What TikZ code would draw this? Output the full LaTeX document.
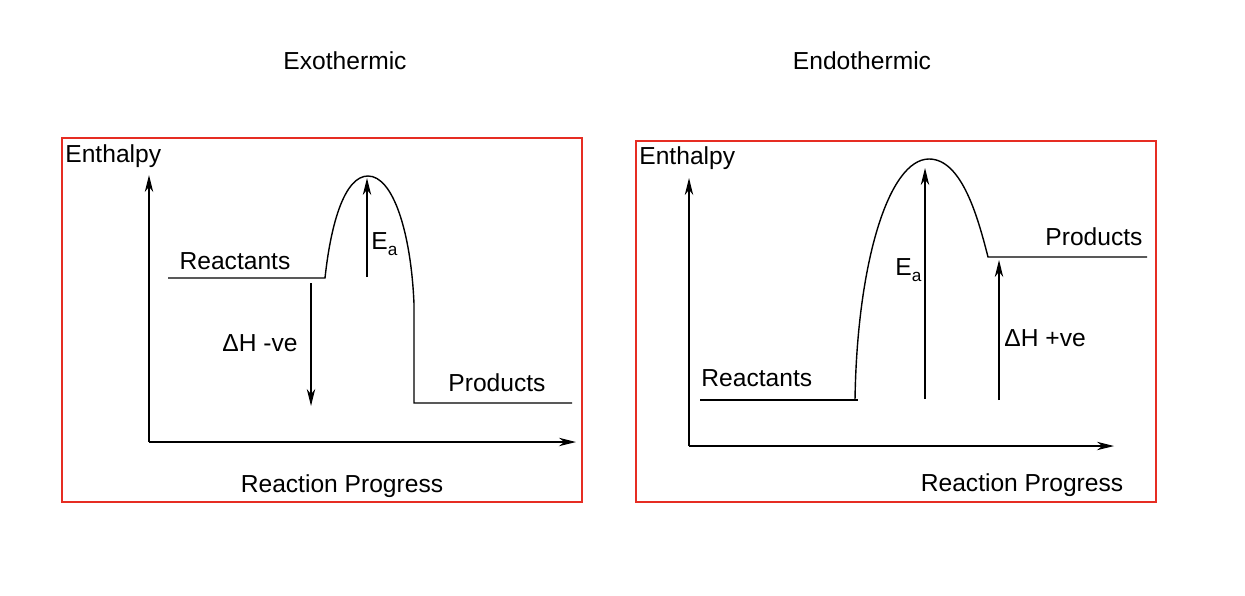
\documentclass[tikz,border=0pt]{standalone}
\usepackage{fontspec}
\setmainfont{Liberation Sans}
\usetikzlibrary{arrows.meta}
\definecolor{framered}{RGB}{230,45,35}
\newcommand{\lowidx}[1]{\raisebox{-3.4pt}{\fontsize{8.6}{9}\selectfont #1}}
\tikzstyle{panel} = [draw=framered, line width=0.9pt]
\tikzstyle{txt} = [inner sep=0pt, font=\fontsize{12.3}{14}\selectfont]
\tikzstyle{level} = [line width=0.7pt]
\tikzstyle{arrow} = [line width=0.7pt, -{Stealth[length=8.5pt,width=4.2pt,inset=2.6pt]}]

\begin{document}
\begin{tikzpicture}[x=0.5pt, y=-0.5pt]
\useasboundingbox (0,0) rectangle (1245,595);

% exothermic
\node (exo) at (345,69) [txt, anchor=base] {Exothermic};
\draw [panel] (62,138) rectangle (582,502);
\node (hl) at (65,162) [txt, anchor=base west] {Enthalpy};
\node (rpl) at (342,492) [txt, anchor=base] {Reaction Progress};
\coordinate (ol) at (149,442);
\coordinate (yl) at (149,175);
\coordinate (xl) at (576,442);
\draw [arrow] (ol) -- (yl);
\draw [arrow] (ol) -- (xl);
\coordinate (r1) at (168,278);
\coordinate (r2) at (325,278);
\coordinate (tl) at (368,176);
\coordinate (dl) at (414,304);
\coordinate (p1) at (414,403);
\coordinate (p2) at (572,403);
\draw [level] (r1) -- (r2) .. controls (331,222) and (345,176) .. (tl)
      .. controls (393,176) and (411,232) .. (dl) -- (p1) -- (p2);
\node (reacl) at (235,269) [txt, anchor=base] {Reactants};
\node (prodl) at (497,391) [txt, anchor=base] {Products};
\coordinate (eal) at (367,277);
\coordinate (eat) at (367,178);
\draw [arrow] (eal) -- (eat);
\node (eall) at (371,249) [txt, anchor=base west] {E\lowidx{a}};
\coordinate (dhl) at (311,283);
\coordinate (dhb) at (311,406);
\draw [arrow] (dhl) -- (dhb);
\node (dhll) at (222,351) [txt, anchor=base west] {ΔH -ve};

% endothermic
\node (endo) at (862,69) [txt, anchor=base] {Endothermic};
\draw [panel] (636,141) rectangle (1156,502);
\node (hr) at (639,164) [txt, anchor=base west] {Enthalpy};
\node (rpr) at (1022,491) [txt, anchor=base] {Reaction Progress};
\coordinate (or) at (689,446);
\coordinate (yr) at (689,178);
\coordinate (xr) at (1114,446);
\draw [arrow] (or) -- (yr);
\draw [arrow] (or) -- (xr);
\coordinate (r3) at (700,400);
\coordinate (r4) at (858,400);
\coordinate (hs) at (855,400);
\coordinate (tr) at (929,159);
\coordinate (p3) at (988,257);
\coordinate (p4) at (1147,257);
\draw [level] (r3) -- (r4);
\draw [level] (hs) .. controls (857,262) and (889,159) .. (tr)
      .. controls (962,159) and (978,218) .. (p3) -- (p4);
\node (reacr) at (701,386) [txt, anchor=base west] {Reactants};
\node (prodr) at (1045,245) [txt, anchor=base west] {Products};
\coordinate (ear) at (925,399);
\coordinate (eart) at (925,168);
\draw [arrow] (ear) -- (eart);
\node (ealr) at (895,275) [txt, anchor=base west] {E\lowidx{a}};
\coordinate (dhr) at (999,400);
\coordinate (dhrt) at (999,260);
\draw [arrow] (dhr) -- (dhrt);
\node (dhlr) at (1004,346) [txt, anchor=base west] {ΔH +ve};
\end{tikzpicture}
\end{document}
